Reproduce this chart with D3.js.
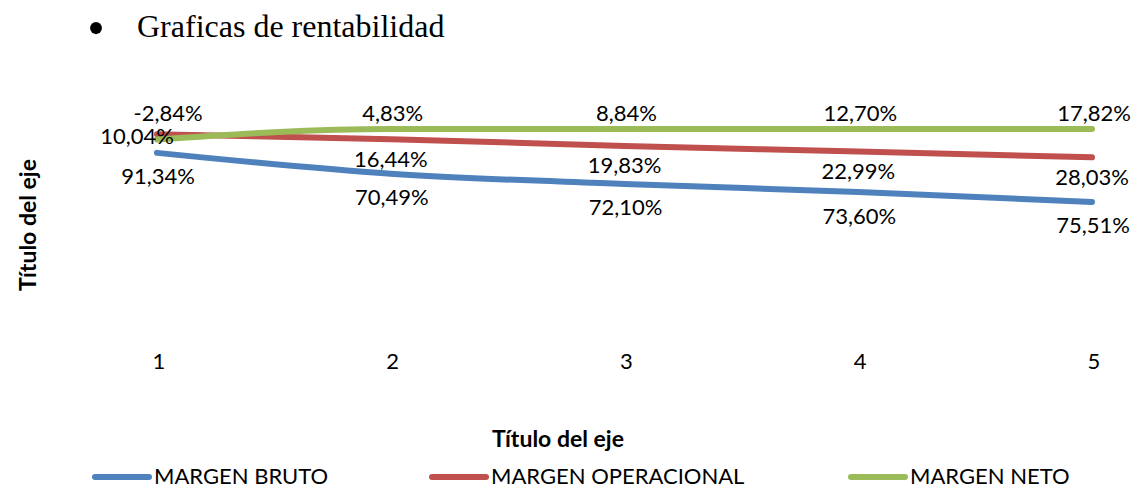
<!DOCTYPE html>
<html>
<head>
<meta charset="utf-8">
<script src="https://cdn.jsdelivr.net/npm/d3@7"></script>
<style>
  body { margin: 0; background: #fff; }
  svg text { font-family: Lato, "Open Sans", sans-serif; fill: #000; }
</style>
</head>
<body>
<svg id="chart" width="1139" height="488"></svg>
<script>
// datos de la grafica (porcentajes)
const categories = [1, 2, 3, 4, 5];
const margenBruto = [91.34, 70.49, 72.10, 73.60, 75.51];
const margenOperacional = [10.04, 16.44, 19.83, 22.99, 28.03];
const margenNeto = [-2.84, 4.83, 8.84, 12.70, 17.82];
const seriesNames = ["MARGEN BRUTO", "MARGEN OPERACIONAL", "MARGEN NETO"];
const colors = ["#4F81BD", "#C0504D", "#9BBB59"];

const svg = d3.select("#chart");
svg.append("rect").attr("width", 1139).attr("height", 488).attr("fill", "#fff");

// titulo con viñeta
svg.append("text").attr("x", 96).attr("y", 45).attr("text-anchor", "middle")
    .style("font-family", "'Liberation Serif', 'Times New Roman', serif")
    .style("font-size", "50px").text("•");
svg.append("text").attr("x", 137).attr("y", 37)
    .style("font-family", "'Liberation Serif', 'Times New Roman', serif")
    .style("font-size", "32px").text("Graficas de rentabilidad");

// escalas
const x = d3.scalePoint().domain(categories).range([157, 1092]);
const y = d3.scaleLinear().domain([0, 1]).range([322, 129]);

// linea 100% apilada (total = suma de valores absolutos, como Excel)
const raw = [margenBruto, margenOperacional, margenNeto];
const totals = categories.map((c, i) => d3.sum(raw, s => Math.abs(s[i])));
const stacked = raw.map((s, k) => categories.map((c, i) => ({
    cat: c,
    value: s[i],
    pct: d3.sum(raw.slice(0, k + 1), t => t[i]) / totals[i]
})));

const line = d3.line()
    .x(d => x(d.cat))
    .y(d => y(d.pct))
    .curve(d3.curveMonotoneX);

svg.append("g").selectAll("path")
    .data(stacked)
    .join("path")
    .attr("d", line)
    .attr("fill", "none")
    .attr("stroke", (d, k) => colors[k])
    .attr("stroke-width", 6)
    .attr("stroke-linecap", "round")
    .attr("stroke-linejoin", "round");

// etiquetas de datos
const fmt = v => d3.format(".2f")(v).replace(".", ",").replace("−", "-") + "%";
function labelPos(k, d, i) {
    if (k === 2) return [x(d.cat) + (i === 0 ? 11 : 2), y(1) - 17];   // encima
    if (k === 1 && i === 0) return [x(d.cat) - 20, y(d.pct) + 1];      // izquierda
    if (k === 1) return [x(d.cat), y(d.pct) + 19];
    return [x(d.cat) + 1, y(d.pct) + 23];
}
stacked.forEach((s, k) => {
    svg.append("g").selectAll("text")
        .data(s)
        .join("text")
        .attr("x", (d, i) => labelPos(k, d, i)[0])
        .attr("y", (d, i) => labelPos(k, d, i)[1])
        .attr("text-anchor", "middle")
        .attr("dominant-baseline", "central")
        .style("font-size", "22px")
        .text(d => fmt(d.value));
});

// etiquetas del eje x
svg.append("g").selectAll("text")
    .data(categories)
    .join("text")
    .attr("x", d => x(d) + 2)
    .attr("y", 360)
    .attr("text-anchor", "middle")
    .attr("dominant-baseline", "central")
    .style("font-size", "22px")
    .text(d => d);

// titulos de ejes
svg.append("text").attr("x", 558).attr("y", 438)
    .attr("text-anchor", "middle").attr("dominant-baseline", "central")
    .style("font-size", "23px").style("font-weight", "bold")
    .text("Título del eje");
svg.append("text")
    .attr("transform", "translate(27,225) rotate(-90)")
    .attr("text-anchor", "middle").attr("dominant-baseline", "central")
    .style("font-size", "23px").style("font-weight", "bold")
    .text("Título del eje");

// leyenda
const legendX = [95, 432, 851];
const legend = svg.append("g").selectAll("g")
    .data(seriesNames)
    .join("g")
    .attr("transform", (d, k) => `translate(${legendX[k]},477)`);
legend.append("line")
    .attr("x1", 0).attr("x2", 54)
    .attr("stroke", (d, k) => colors[k])
    .attr("stroke-width", 6)
    .attr("stroke-linecap", "round");
legend.append("text")
    .attr("x", 59)
    .attr("y", 7)
    .style("font-size", "22px")
    .text(d => d);
</script>
</body>
</html>
